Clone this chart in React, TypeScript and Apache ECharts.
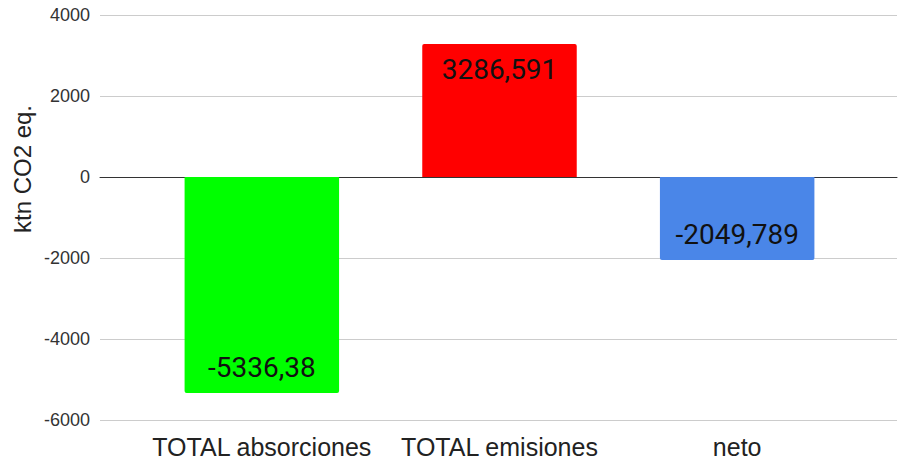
import React, { useEffect, useRef } from "react";
import * as echarts from "echarts";

const categories = ["TOTAL absorciones", "TOTAL emisiones", "neto"];
const values = [-5336.38, 3286.591, -2049.789];
const colors = ["#00ff00", "#ff0000", "#4a86e8"];
const yTicks = { min: -6000, max: 4000, interval: 2000 };
const yTitle = "ktn CO2 eq.";

const AX_FONT = "'Liberation Sans', Arial, sans-serif";

export default function App() {
  const ref = useRef<HTMLDivElement>(null);
  useEffect(() => {
    if (!ref.current) return;
    const chart = echarts.init(ref.current, undefined, { renderer: "svg" });
    chart.setOption({
      animation: false,
      grid: [
        { left: 100, right: 6, top: 15, bottom: 44, containLabel: false },
        { left: 143, right: 47, top: 15, bottom: 44, containLabel: false },
      ],
      xAxis: [
        {
          gridIndex: 0,
          type: "category",
          data: categories,
          axisLine: { show: true, onZero: true, lineStyle: { color: "#333", width: 1 } },
          axisTick: { show: false },
          axisLabel: { show: false },
          splitLine: { show: false },
        },
        {
          gridIndex: 1,
          type: "category",
          data: categories,
          position: "bottom",
          axisLine: { show: false, onZero: false },
          axisTick: { show: false },
          axisLabel: {
            interval: 0,
            hideOverlap: false,
            fontSize: 25,
            color: "#222",
            margin: 14,
            fontFamily: AX_FONT,
          },
          splitLine: { show: false },
        },
      ],
      yAxis: [
        {
          gridIndex: 0,
          type: "value",
          min: yTicks.min,
          max: yTicks.max,
          interval: yTicks.interval,
          axisLine: { show: false },
          axisTick: { show: false },
          axisLabel: {
            fontSize: 18,
            color: "#333",
            margin: 10,
            fontFamily: AX_FONT,
            formatter: (v: number) => String(v),
          },
          splitLine: { lineStyle: { color: "#cccccc", width: 1 } },
        },
        {
          gridIndex: 1,
          type: "value",
          min: yTicks.min,
          max: yTicks.max,
          interval: yTicks.interval,
          axisLine: { show: false },
          axisTick: { show: false },
          axisLabel: { show: false },
          splitLine: { show: false },
        },
      ],
      graphic: [
        {
          type: "text",
          x: 22,
          y: 169,
          rotation: Math.PI / 2,
          style: {
            text: yTitle,
            fontSize: 24,
            fontFamily: AX_FONT,
            fill: "#222",
            textAlign: "center",
            textVerticalAlign: "middle",
          },
        },
      ],
      series: [
        {
          type: "bar",
          xAxisIndex: 1,
          yAxisIndex: 1,
          barWidth: "65%",
          z: 1,
          data: values.map((v, i) => ({
            value: v,
            itemStyle: {
              color: colors[i],
              borderRadius: v >= 0 ? [2, 2, 0, 0] : [0, 0, 2, 2],
            },
            label: {
              show: true,
              position: v >= 0 ? "insideTop" : "insideBottom",
              distance: 12,
              fontSize: 28,
              color: "#111",
              fontFamily: "Roboto",
              formatter: () => String(v).replace(".", ","),
            },
          })),
        },
      ],
    });
    return () => chart.dispose();
  }, []);
  return <div ref={ref} style={{ width: 903, height: 464, position: "absolute", left: 0, top: 0 }} />;
}
